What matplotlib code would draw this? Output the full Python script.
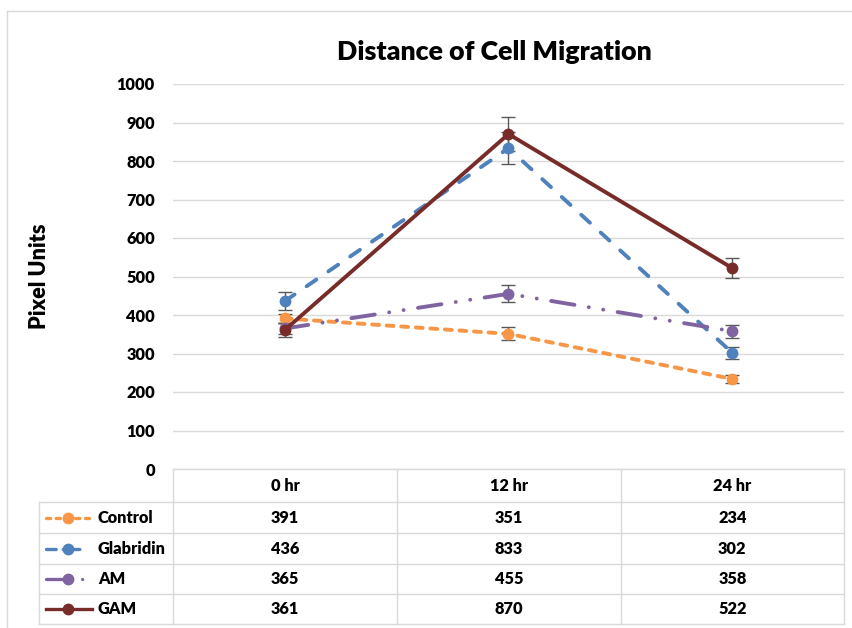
import matplotlib
matplotlib.use("Agg")
import matplotlib.pyplot as plt
from matplotlib.lines import Line2D

plt.rcParams['font.family'] = ['Lato', 'DejaVu Sans']
plt.rcParams['lines.scale_dashes'] = False
WT = 'heavy'

categories = ["0 hr", "12 hr", "24 hr"]
series_names = ["Control", "Glabridin", "AM", "GAM"]
control = [391, 351, 234]
glabridin = [436, 833, 302]
am = [365, 455, 358]
gam = [361, 870, 522]
control_err = [12, 17, 10]
glabridin_err = [23, 42, 15]
am_err = [15, 22, 17]
gam_err = [18, 44, 26]
yticks = [0, 100, 200, 300, 400, 500, 600, 700, 800, 900, 1000]

values = [control, glabridin, am, gam]
errors = [control_err, glabridin_err, am_err, gam_err]
colors = ["#F79646", "#4F81BD", "#8064A2", "#772C2A"]
dashes = [(0, (5.0, 5.5)), (0, (8.5, 10.5)), (0, (17, 10.5, 0.01, 10.5, 0.01, 10.5)), "-"]
LW = 2.8

W, H = 853, 628
fig = plt.figure(figsize=(W / 100, H / 100), dpi=100)

def fx(x):
    return x / W

def fy(y):
    return 1 - y / H

L, R, T, B = 173, 844, 84, 469
ax = fig.add_axes([fx(L), fy(B), fx(R) - fx(L), fy(T) - fy(B)])
ax.set_xlim(-0.5, len(categories) - 0.5)
ax.set_ylim(0, 1000)
ax.set_yticks(yticks)
ax.set_yticklabels([str(v) for v in yticks], fontsize=11.8, fontweight=WT)
ax.tick_params(axis='y', length=0, pad=13)
ax.set_xticks([])
for s in ax.spines.values():
    s.set_visible(False)
ax.grid(axis='y', color='#D9D9D9', linewidth=1.0)
ax.set_axisbelow(True)

x = list(range(len(categories)))
for vals, errs in zip(values, errors):
    ax.errorbar(x, vals, yerr=errs, fmt='none', ecolor='#595959', elinewidth=1.0,
                capsize=5, capthick=1.0, zorder=2)
for vals, c, d in zip(values, colors, dashes):
    ax.plot(x, vals, color=c, linestyle=d, linewidth=LW, marker='o', markersize=7.5,
            markeredgecolor=c, markerfacecolor=c, dash_capstyle='round', zorder=3)

# Title and y label
fig.text(fx(494), fy(52), "Distance of Cell Migration", ha='center', va='center',
         fontsize=19.3, fontweight=WT)
fig.text(fx(40), fy(276), "Pixel Units", ha='center', va='center', rotation=90,
         fontsize=15.5, fontweight=WT)

# Data table
grid_c = '#D9D9D9'
col_x = [173, 397, 620.7, 844]
row_y = [469, 502.3, 533.3, 564, 594.3, 624.3]
leg_left = 39.3

def hline(x0, x1, y):
    fig.add_artist(Line2D([fx(x0), fx(x1)], [fy(y), fy(y)], color=grid_c, lw=1.0))

def vline(x0, y0, y1):
    fig.add_artist(Line2D([fx(x0), fx(x0)], [fy(y0), fy(y1)], color=grid_c, lw=1.0))

hline(col_x[0], col_x[-1], row_y[0])
for y in row_y[1:]:
    hline(leg_left, col_x[-1], y)
vline(leg_left, row_y[1], row_y[-1])
vline(col_x[0], row_y[0], row_y[-1])
for cx in col_x[1:]:
    vline(cx, row_y[0], row_y[-1])

for j, cat in enumerate(categories):
    xc = (col_x[j] + col_x[j + 1]) / 2
    fig.text(fx(xc), fy((row_y[0] + row_y[1]) / 2), cat, ha='center', va='center',
             fontsize=11.8, fontweight=WT)

leg_dashes = [(0, (3.0, 4.0)), (0, (7.0, 5.0, 12.0, 30.0)), (0, (17, 9, 0.01, 30)), "-"]
for i, (name, vals, c, d) in enumerate(zip(series_names, values, colors, leg_dashes)):
    yc = (row_y[i + 1] + row_y[i + 2]) / 2
    for j, v in enumerate(vals):
        xc = (col_x[j] + col_x[j + 1]) / 2
        fig.text(fx(xc), fy(yc), str(v), ha='center', va='center',
                 fontsize=11.8, fontweight=WT)
    fig.add_artist(Line2D([fx(46), fx(92)], [fy(yc), fy(yc)], color=c, linestyle=d,
                          linewidth=2.4, dash_capstyle='round'))
    fig.add_artist(Line2D([fx(68)], [fy(yc)], color=c, marker='o', markersize=7.5,
                          linestyle='none'))
    fig.text(fx(98), fy(yc), name, ha='left', va='center', fontsize=11.8,
             fontweight=WT)

# chart border
fig.add_artist(Line2D([fx(7.5), fx(7.5)], [fy(11), fy(H + 5)], color=grid_c, lw=1.0))
fig.add_artist(Line2D([fx(7.5), fx(W + 5)], [fy(11), fy(11)], color=grid_c, lw=1.0))

fig.savefig("out.png", dpi=100)
